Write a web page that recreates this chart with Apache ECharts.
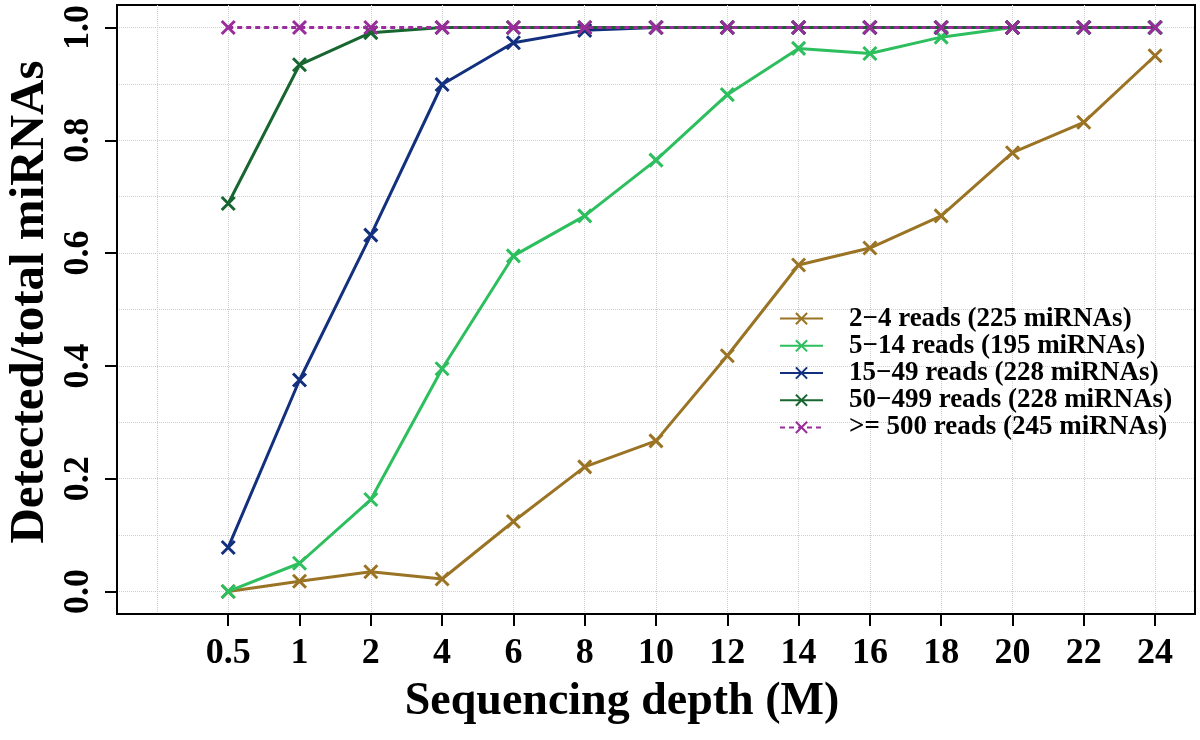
<!DOCTYPE html>
<html>
<head>
<meta charset="utf-8">
<script src="https://cdn.jsdelivr.net/npm/echarts@6/dist/echarts.min.js"></script>
<style>html,body{margin:0;padding:0;background:#fff;}#c{width:1200px;height:740px;}</style>
</head>
<body>
<div id="c"></div>
<script>
const depthLabels = ['0.5','1','2','4','6','8','10','12','14','16','18','20','22','24'];
const seriesNames = ['2\u22124 reads (225 miRNAs)','5\u221214 reads (195 miRNAs)','15\u221249 reads (228 miRNAs)','50\u2212499 reads (228 miRNAs)','>= 500 reads (245 miRNAs)'];
const reads2to4 =    [0.000,0.018,0.035,0.022,0.124,0.221,0.267,0.418,0.579,0.609,0.666,0.778,0.832,0.950];
const reads5to14 =   [0.000,0.050,0.163,0.395,0.595,0.666,0.765,0.881,0.963,0.954,0.983,1.000,1.000,1.000];
const reads15to49 =  [0.078,0.375,0.632,0.899,0.973,0.995,1.000,1.000,1.000,1.000,1.000,1.000,1.000,1.000];
const reads50to499 = [0.688,0.934,0.991,1.000,1.000,1.000,1.000,1.000,1.000,1.000,1.000,1.000,1.000,1.000];
const reads500 =     [1.000,1.000,1.000,1.000,1.000,1.000,1.000,1.000,1.000,1.000,1.000,1.000,1.000,1.000];
const yTickValues = [0, 0.2, 0.4, 0.6, 0.8, 1.0];
const yGridValues = [0, 0.1, 0.2, 0.3, 0.4, 0.5, 0.6, 0.7, 0.8, 0.9, 1.0];

const colors = ['#9A7424', '#2DBE5E', '#13307F', '#17662F', '#9B2C9B'];
const allData = [reads2to4, reads5to14, reads15to49, reads50to499, reads500];
const FONT = "'Liberation Serif', 'Times New Roman', serif";
const xTickIdx = depthLabels.map((d, i) => i + 1);
const xGridIdx = [0].concat(xTickIdx);

const series = allData.map((arr, k) => ({
  name: seriesNames[k],
  type: 'line',
  data: arr.map((v, i) => [i + 1, v]),
  symbol: 'path://M0,0L10,10M10,0L0,10',
  symbolSize: 13,
  showAllSymbol: true,
  z: 2 + k,
  itemStyle: { color: colors[k], borderColor: colors[k], borderWidth: 3 },
  lineStyle: { color: colors[k], width: 3, type: k === 4 ? [5, 4] : 'solid' },
  emphasis: { disabled: true },
  animation: false
}));

const gridLine = { show: true, lineStyle: { color: '#cfcfcf', type: 'dotted', width: 1 } };

const chart = echarts.init(document.getElementById('c'), null, { renderer: 'canvas' });
chart.setOption({
  animation: false,
  backgroundColor: '#fff',
  grid: { left: 117, top: 5, right: 5, bottom: 126, show: true, borderColor: '#000', borderWidth: 2, containLabel: false },
  xAxis: [{
    type: 'value', min: -0.56, max: 14.56,
    axisLine: { show: true, onZero: false, lineStyle: { color: '#000', width: 2 } },
    axisTick: { show: true, length: 12, lineStyle: { color: '#000', width: 2 }, customValues: xTickIdx },
    axisLabel: { customValues: xTickIdx, margin: 22, color: '#000', fontFamily: FONT, fontWeight: 'bold', fontSize: 36,
      formatter: v => depthLabels[Math.round(v) - 1] || '' },
    splitLine: { show: false }
  }, {
    type: 'value', min: -0.56, max: 14.56, position: 'top',
    axisLine: { show: false }, axisLabel: { show: false },
    axisTick: { show: false, customValues: xGridIdx },
    splitLine: gridLine
  }],
  yAxis: [{
    type: 'value', min: -0.04, max: 1.04,
    axisLine: { show: true, onZero: false, lineStyle: { color: '#000', width: 2 } },
    axisTick: { show: true, length: 12, lineStyle: { color: '#000', width: 2 }, customValues: yTickValues },
    axisLabel: { customValues: yTickValues, rotate: 90, margin: 20, color: '#000', fontFamily: FONT, fontWeight: 'bold', fontSize: 36,
      formatter: v => v.toFixed(1) },
    splitLine: { show: false }
  }, {
    type: 'value', min: -0.04, max: 1.04, position: 'right',
    axisLine: { show: false }, axisLabel: { show: false },
    axisTick: { show: false, customValues: yGridValues },
    splitLine: gridLine
  }],
  legend: {
    show: true, orient: 'vertical', left: 779, top: 305, padding: 0,
    itemWidth: 43, itemHeight: 14, itemGap: 0,
    textStyle: { color: '#000', fontFamily: FONT, fontWeight: 'bold', fontSize: 27, lineHeight: 27.2, padding: [0, 0, 0, 21] },
    data: seriesNames
  },
  graphic: [
    { type: 'text', x: 622, y: 702, style: { text: 'Sequencing depth (M)', font: "bold 46px 'Liberation Serif', serif", fill: '#000', textAlign: 'center', textVerticalAlign: 'middle' } },
    { type: 'text', x: 30, y: 302, rotation: Math.PI / 2, style: { text: 'Detected/total miRNAs', font: "bold 49px 'Liberation Serif', serif", fill: '#000', textAlign: 'center', textVerticalAlign: 'middle' } }
  ],
  series: series
});
</script>
</body>
</html>
